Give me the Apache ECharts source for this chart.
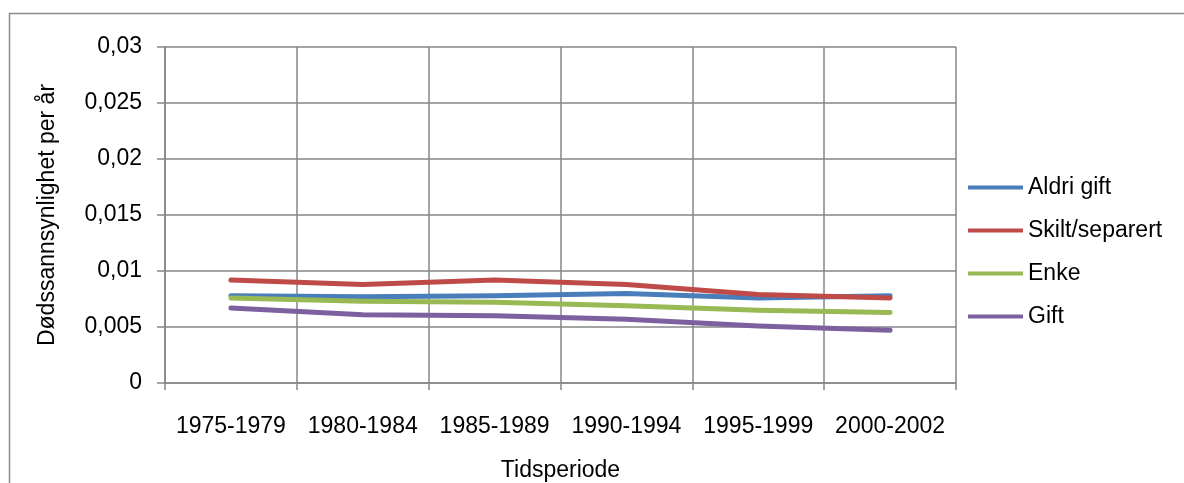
<!DOCTYPE html>
<html>
<head>
<meta charset="utf-8">
<script src="https://cdn.jsdelivr.net/npm/echarts@6/dist/echarts.min.js"></script>
<style>
html,body{margin:0;padding:0;background:#fff;}
#chart{width:1184px;height:483px;}
</style>
</head>
<body>
<div id="chart"></div>
<script>
const categories = ['1975-1979','1980-1984','1985-1989','1990-1994','1995-1999','2000-2002'];
const aldriGift = [0.0078, 0.0077, 0.0078, 0.0080, 0.0076, 0.0078];
const skiltSeparert = [0.0092, 0.0088, 0.0092, 0.0088, 0.0079, 0.0076];
const enke = [0.0076, 0.0073, 0.0072, 0.0069, 0.0065, 0.0063];
const gift = [0.0067, 0.0061, 0.0060, 0.0057, 0.0051, 0.0047];
const seriesNames = ['Aldri gift','Skilt/separert','Enke','Gift'];
const seriesColors = ['#4A7EBB','#BE4B48','#98B954','#7D60A0'];
const yTitle = 'Dødssannsynlighet per år';
const xTitle = 'Tidsperiode';

const FONT = '"Liberation Sans", Arial, sans-serif';
const FS = 23;
const gridColor = '#868686';
const chart = echarts.init(document.getElementById('chart'), null, {renderer:'canvas'});
const dataSets = [aldriGift, skiltSeparert, enke, gift];

chart.setOption({
  backgroundColor:'#fff',
  animation:false,
  graphic:[{
    type:'rect', left:7, top:11,
    shape:{x:0,y:0,width:1200,height:500},
    style:{fill:'none', stroke:'#8c8c8c', lineWidth:1.5},
    silent:true, z:-1
  }],
  grid:{left:165, right:228, top:47, bottom:100, containLabel:false, outerBoundsMode:'none'},
  legend:{
    orient:'vertical', left:963, top:171, padding:5,
    itemWidth:55, itemHeight:4, itemGap:20,
    icon:'rect',
    textStyle:{fontFamily:FONT, fontSize:FS, color:'#000', lineHeight:22},
    data:seriesNames
  },
  xAxis:{
    type:'category', data:categories, boundaryGap:true,
    name:xTitle, nameLocation:'middle', nameGap:76,
    nameTextStyle:{fontFamily:FONT, fontSize:FS, color:'#000'},
    axisLine:{show:true, lineStyle:{color:gridColor, width:1.5}},
    axisTick:{show:true, length:7, lineStyle:{color:gridColor, width:1.5}},
    axisLabel:{fontFamily:FONT, fontSize:FS, color:'#000', margin:32, interval:0},
    splitLine:{show:true, lineStyle:{color:gridColor, width:1.5}}
  },
  yAxis:{
    type:'value', min:0, max:0.03, interval:0.005,
    name:yTitle, nameLocation:'middle', nameGap:106, nameRotate:90,
    nameTextStyle:{fontFamily:FONT, fontSize:FS, color:'#000'},
    axisLine:{show:true, lineStyle:{color:gridColor, width:1.5}},
    axisTick:{show:true, length:8, lineStyle:{color:gridColor, width:1.5}},
    axisLabel:{fontFamily:FONT, fontSize:FS, color:'#000', margin:23,
      formatter:function(v){ return String(+v.toFixed(3)).replace('.', ','); }},
    splitLine:{show:true, lineStyle:{color:gridColor, width:1.5}}
  },
  series: seriesNames.map(function(n,i){
    return {
      name:n, type:'line', data:dataSets[i],
      symbol:'none', smooth:false,
      itemStyle:{color:seriesColors[i]},
      lineStyle:{color:seriesColors[i], width:5, cap:'round', join:'round'}
    };
  })
});
</script>
</body>
</html>
